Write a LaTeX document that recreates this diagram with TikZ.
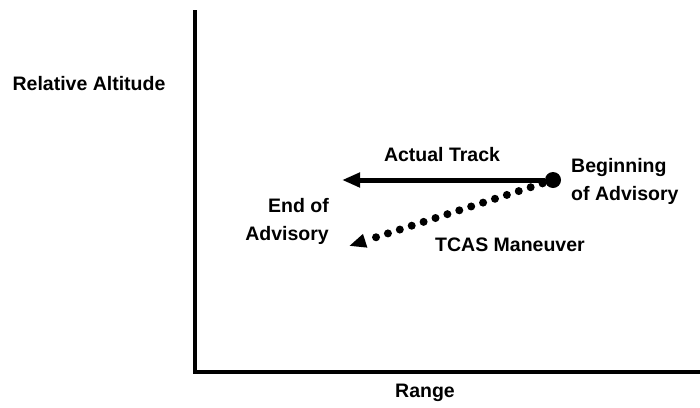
\documentclass[tikz,border=0pt]{standalone}
\usepackage{fontspec}
\setmainfont{Liberation Sans}
\usetikzlibrary{arrows.meta, positioning}

\begin{document}
\begin{tikzpicture}[
    x=1pt, y=-1pt,
    lbl/.style={font=\fontsize{19.5}{28}\selectfont\bfseries, inner sep=0pt, align=center},
    axis/.style={line width=4pt},
    arr/.style={-{Triangle[length=18pt, width=14pt]}, line width=5pt},
    dotarr/.style={-{Triangle[length=17pt, width=13pt]}, line width=8pt,
                   line cap=round, dash pattern=on 0pt off 12.5pt, shorten <=11pt}
  ]
    \useasboundingbox (0,0) rectangle (700,407);
    \coordinate (top) at (195,10);
    \coordinate (origin) at (195,372);
    \coordinate (right) at (700,372);
    \draw[axis] (top) -- (origin) -- (right);
    \node[lbl] (alt) at (89,84) {Relative Altitude};
    \node[lbl] (range) at (425,393) {Range};
    \node[circle, fill, inner sep=0pt, minimum size=16pt] (begin) at (553,180) {};
    \coordinate (trackend) at (342,180);
    \coordinate (manend) at (349,246);
    \draw[arr] (begin) -- (trackend);
    \draw[dotarr] (begin.center) -- (manend);
    \node[lbl] (track) at (442,155) {Actual Track};
    \node[lbl, align=left, anchor=west] (beg) at (571,181) {Beginning\\of Advisory};
    \node[lbl, align=right, anchor=east] (end) at (329,221) {End of\\Advisory};
    \node[lbl] (tcas) at (510,245) {TCAS Maneuver};
  \end{tikzpicture}
\end{document}
